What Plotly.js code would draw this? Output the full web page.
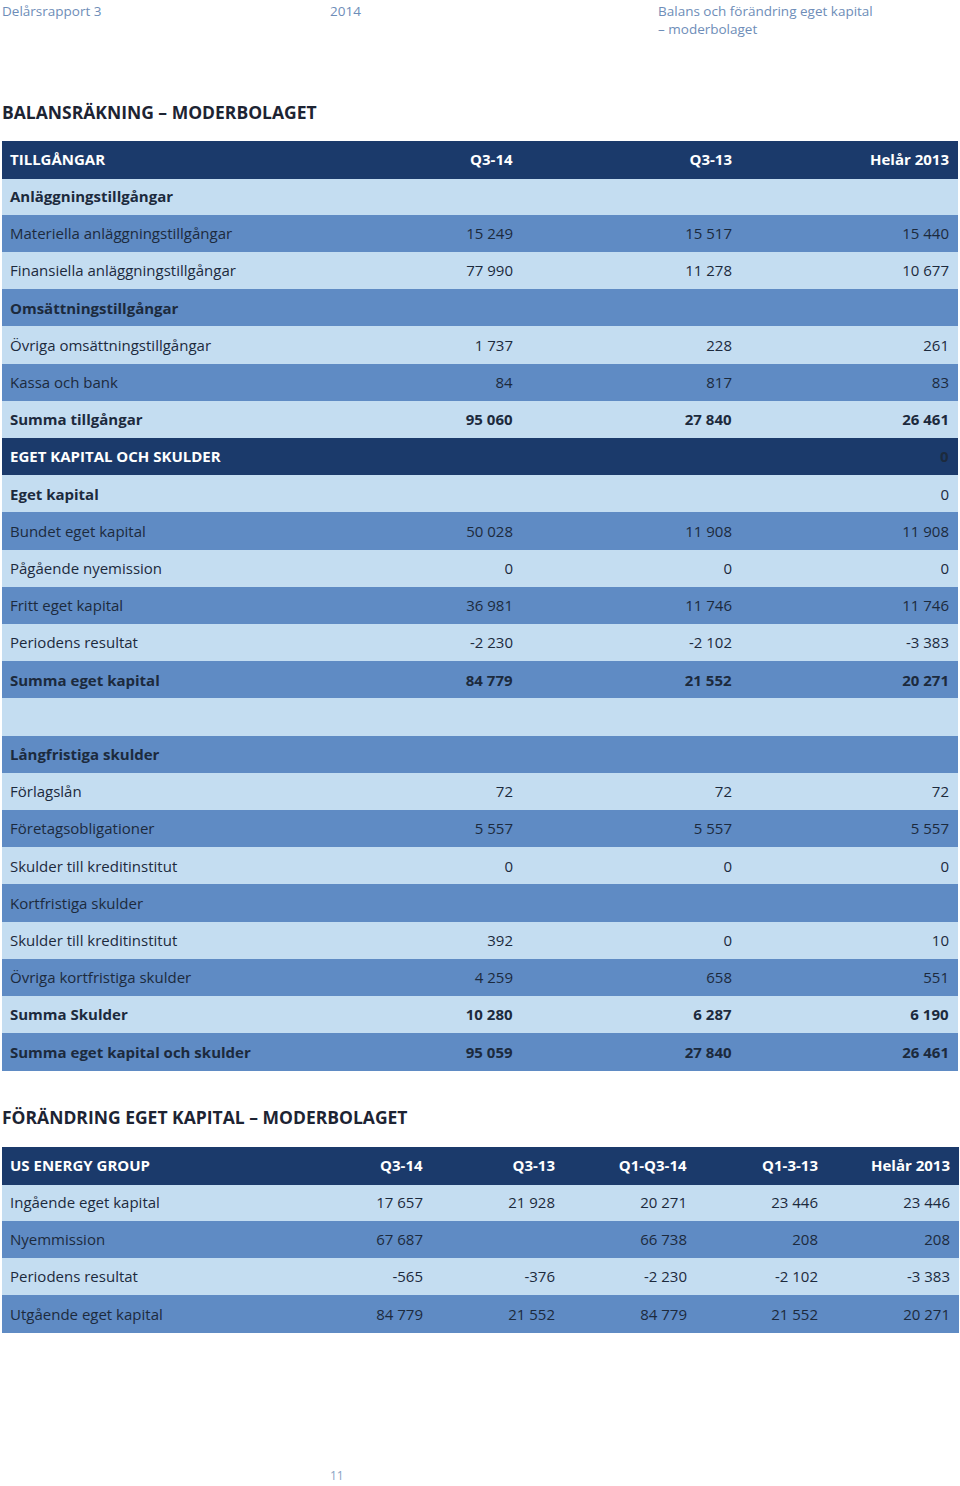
<!DOCTYPE html>
<html><head><meta charset="utf-8">
<script src="https://cdn.plot.ly/plotly-3.0.1.min.js"></script>
<style>html,body{margin:0;padding:0;background:#fff}#c{width:960px;height:1486px}</style>
</head><body><div id="c"></div>
<script>
// ---------- DATA ----------
const balHeader = ['TILLGÅNGAR', 'Q3-14', 'Q3-13', 'Helår 2013'];
const balLabels = [
  'Anläggningstillgångar', 'Materiella anläggningstillgångar', 'Finansiella anläggningstillgångar',
  'Omsättningstillgångar', 'Övriga omsättningstillgångar', 'Kassa och bank', 'Summa tillgångar',
  'EGET KAPITAL OCH SKULDER', 'Eget kapital', 'Bundet eget kapital', 'Pågående nyemission',
  'Fritt eget kapital', 'Periodens resultat', 'Summa eget kapital', '',
  'Långfristiga skulder', 'Förlagslån', 'Företagsobligationer', 'Skulder till kreditinstitut',
  'Kortfristiga skulder', 'Skulder till kreditinstitut', 'Övriga kortfristiga skulder',
  'Summa Skulder', 'Summa eget kapital och skulder'
];
const balQ314 = [null, 15249, 77990, null, 1737, 84, 95060, null, null, 50028, 0, 36981, -2230, 84779, null, null, 72, 5557, 0, null, 392, 4259, 10280, 95059];
const balQ313 = [null, 15517, 11278, null, 228, 817, 27840, null, null, 11908, 0, 11746, -2102, 21552, null, null, 72, 5557, 0, null, 0, 658, 6287, 27840];
const balHelar = [null, 15440, 10677, null, 261, 83, 26461, 0, 0, 11908, 0, 11746, -3383, 20271, null, null, 72, 5557, 0, null, 10, 551, 6190, 26461];

const ekHeader = ['US ENERGY GROUP', 'Q3-14', 'Q3-13', 'Q1-Q3-14', 'Q1-3-13', 'Helår 2013'];
const ekLabels = ['Ingående eget kapital', 'Nyemmission', 'Periodens resultat', 'Utgående eget kapital'];
const ekQ314 = [17657, 67687, -565, 84779];
const ekQ313 = [21928, null, -376, 21552];
const ekQ1Q314 = [20271, 66738, -2230, 84779];
const ekQ1313 = [23446, 208, -2102, 21552];
const ekHelar = [23446, 208, -3383, 20271];

// ---------- STYLE ----------
const DARK = '#1b3a6b', LIGHT = '#c4ddf1', MID = '#5f8bc4', TXT = '#1c2a3d';
const FONT = '"Open Sans", Lato, sans-serif';
const boldLabelRows = [0, 3, 6, 7, 8, 13, 15, 22, 23];
const boldValueRows = [6, 7, 13, 22, 23];
const darkRows = [7];
const H = 1486, W = 960;
const FS = 15;

function fmt(v) {
  if (v === null || v === undefined) return '';
  const s = Math.abs(v).toString().replace(/\B(?=(\d{3})+(?!\d))/g, ' ');
  return (v < 0 ? '-' : '') + s;
}
function rowFill(i) { return darkRows.includes(i) ? DARK : (i % 2 === 0 ? LIGHT : MID); }
function wrap(t, bold) { return t === '' ? '' : (bold ? '<b>' + t + '</b>' : '<span>' + t + '</span>'); }

// Balance table
const balCols = [balLabels, balQ314.map(fmt), balQ313.map(fmt), balHelar.map(fmt)];
const balText = balCols.map((col, c) => col.map((t, i) => wrap(t, c === 0 ? boldLabelRows.includes(i) : boldValueRows.includes(i))));
const balFill = balCols.map(col => col.map((_, i) => rowFill(i)));
const balFontCol = balCols.map((col, c) => col.map((_, i) => (darkRows.includes(i) && c === 0) ? '#ffffff' : TXT));

const rowH = 37.2, hdrH = 37;
const t1Top = 141, t1Bot = t1Top + hdrH + rowH * balLabels.length + 2;
const t2Top = 1147, t2Bot = t2Top + hdrH + rowH * ekLabels.length + 2;

const ekCols = [ekLabels, ekQ314.map(fmt), ekQ313.map(fmt), ekQ1Q314.map(fmt), ekQ1313.map(fmt), ekHelar.map(fmt)];
const ekText = ekCols.map(col => col.map(t => wrap(t, false)));
const ekFill = ekCols.map(col => col.map((_, i) => i % 2 === 0 ? LIGHT : MID));

const traces = [
  {
    type: 'table',
    domain: {x: [2 / W, 957 / W], y: [1 - t1Bot / H, 1 - t1Top / H]},
    columnwidth: [298, 221, 219, 217],
    header: {
      values: balHeader.map(h => '<b>' + h + '</b>'),
      align: ['left', 'right', 'right', 'right'],
      fill: {color: DARK},
      line: {color: DARK, width: 1},
      font: {family: FONT, size: FS, color: '#ffffff'},
      height: hdrH
    },
    cells: {
      values: balText,
      align: ['left', 'right', 'right', 'right'],
      fill: {color: balFill},
      line: {color: balFill, width: 1},
      font: {family: FONT, size: FS, color: balFontCol},
      height: rowH
    }
  },
  {
    type: 'table',
    domain: {x: [2 / W, 958 / W], y: [1 - t2Bot / H, 1 - t2Top / H]},
    columnwidth: [298, 131, 132, 132, 131, 132],
    header: {
      values: ekHeader.map(h => '<b>' + h + '</b>'),
      align: ['left', 'right', 'right', 'right', 'right', 'right'],
      fill: {color: DARK},
      line: {color: DARK, width: 1},
      font: {family: FONT, size: FS, color: '#ffffff'},
      height: hdrH
    },
    cells: {
      values: ekText,
      align: ['left', 'right', 'right', 'right', 'right', 'right'],
      fill: {color: ekFill},
      line: {color: ekFill, width: 1},
      font: {family: FONT, size: FS, color: TXT},
      height: rowH
    }
  }
];

const HDRC = '#6e8db8';
function ann(text, x, y, opts) {
  return Object.assign({text: text, x: x / W, y: 1 - y / H, xref: 'paper', yref: 'paper',
    xanchor: 'left', yanchor: 'middle', showarrow: false, align: 'left'}, opts);
}
const layout = {
  width: W, height: H,
  margin: {l: 0, r: 0, t: 0, b: 0},
  paper_bgcolor: '#ffffff', plot_bgcolor: '#ffffff',
  font: {family: FONT},
  annotations: [
    ann('Delårsrapport 3', 0, 0, {yanchor: 'top', font: {family: FONT, size: 13.5, color: HDRC}}),
    ann('2014', 328, 0, {yanchor: 'top', font: {family: FONT, size: 13.5, color: HDRC}}),
    ann('Balans och förändring eget kapital<br>– moderbolaget', 656, 0, {yanchor: 'top', font: {family: FONT, size: 13.5, color: HDRC}}),
    ann('<b>BALANSRÄKNING – MODERBOLAGET</b>', 0, 112, {font: {family: FONT, size: 17.5, color: '#1d2433'}}),
    ann('<b>FÖRÄNDRING EGET KAPITAL – MODERBOLAGET</b>', 0, 1117, {font: {family: FONT, size: 17.5, color: '#1d2433'}}),
    ann('11', 328, 1486, {yanchor: 'bottom', font: {family: FONT, size: 12, color: '#8aa3c4'}})
  ]
};
Plotly.newPlot('c', traces, layout, {displayModeBar: false, staticPlot: true});
</script></body></html>
